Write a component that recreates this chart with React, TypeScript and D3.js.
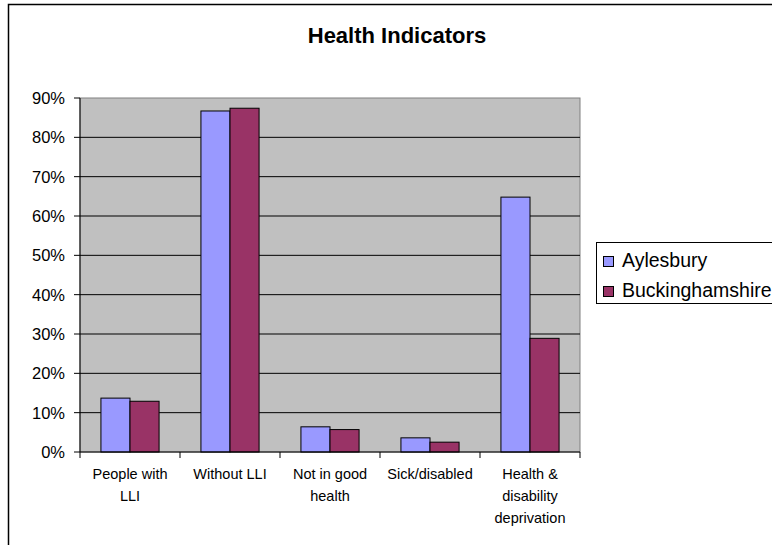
import * as d3 from "d3";

const categories = [
  ["People with", "LLI"],
  ["Without LLI"],
  ["Not in good", "health"],
  ["Sick/disabled"],
  ["Health &", "disability", "deprivation"],
];
const seriesNames = ["Aylesbury", "Buckinghamshire"];
const aylesbury = [13.7, 86.7, 6.4, 3.6, 64.8];
const buckinghamshire = [12.9, 87.4, 5.7, 2.5, 28.9];
const yTicks = [0, 10, 20, 30, 40, 50, 60, 70, 80, 90];

const colors = ["#9999FF", "#993366"];
const font = "'Liberation Sans', Arial, sans-serif";

export default function App() {
  const W = 772;
  const H = 545;
  const plot = { left: 80, right: 580, top: 98, bottom: 452 };

  const x = d3
    .scaleBand<number>()
    .domain(d3.range(categories.length))
    .range([plot.left, plot.right]);
  const inner = d3
    .scaleBand<number>()
    .domain([0, 1])
    .range([0, x.bandwidth()])
    .paddingOuter(0.72)
    .paddingInner(0);
  const y = d3.scaleLinear().domain([0, 90]).range([plot.bottom, plot.top]);

  const series = [aylesbury, buckinghamshire];

  return (
    <svg
      width={W}
      height={H}
      style={{ position: "fixed", left: 0, top: 0, background: "#fff" }}
      fontFamily={font}
    >
      {/* chart frame */}
      <rect x={8.5} y={4.5} width={W} height={H} fill="#fff" stroke="#000" strokeWidth={1.5} />

      <text x={397} y={43} textAnchor="middle" fontSize={22} fontWeight="bold">
        Health Indicators
      </text>

      {/* plot area */}
      <rect
        x={plot.left}
        y={plot.top}
        width={plot.right - plot.left}
        height={plot.bottom - plot.top}
        fill="#C0C0C0"
        stroke="#808080"
        strokeWidth={1}
      />

      {yTicks.map((t) => (
        <g key={t}>
          {t > 0 && t < 90 && (
            <line x1={plot.left} x2={plot.right} y1={y(t)} y2={y(t)} stroke="#000" strokeWidth={1} />
          )}
          <line x1={plot.left - 6} x2={plot.left} y1={y(t)} y2={y(t)} stroke="#000" />
          <text x={65} y={y(t) + 6} textAnchor="end" fontSize={16.5} fill="#000">
            {t}%
          </text>
        </g>
      ))}

      {series.map((vals, s) =>
        vals.map((v, i) => (
          <rect
            key={`${s}-${i}`}
            x={(x(i) ?? 0) + (inner(s) ?? 0)}
            y={y(v)}
            width={inner.bandwidth()}
            height={plot.bottom - y(v)}
            fill={colors[s]}
            stroke="#000"
            strokeWidth={1}
          />
        ))
      )}

      {/* axes */}
      <line x1={plot.left} x2={plot.left} y1={plot.top} y2={plot.bottom} stroke="#000" />
      <line x1={plot.left} x2={plot.right} y1={plot.bottom} y2={plot.bottom} stroke="#000" />
      {d3.range(categories.length + 1).map((i) => {
        const xx = plot.left + i * x.step();
        return <line key={i} x1={xx} x2={xx} y1={plot.bottom} y2={plot.bottom + 6} stroke="#000" />;
      })}

      {categories.map((lines, i) => (
        <text
          key={i}
          x={(x(i) ?? 0) + x.bandwidth() / 2}
          textAnchor="middle"
          fontSize={14.5}
          fill="#000"
        >
          {lines.map((l, j) => (
            <tspan key={j} x={(x(i) ?? 0) + x.bandwidth() / 2} y={479 + j * 22}>
              {l}
            </tspan>
          ))}
        </text>
      ))}

      {/* legend */}
      <rect x={596.5} y={242.5} width={190} height={61} fill="#fff" stroke="#000" strokeWidth={1} />
      {seriesNames.map((n, i) => (
        <g key={n}>
          <rect x={603.5} y={256.5 + i * 30} width={10} height={10} fill={colors[i]} stroke="#000" />
          <text x={622} y={266.5 + i * 30} fontSize={19.5} fill="#000">
            {n}
          </text>
        </g>
      ))}
    </svg>
  );
}
